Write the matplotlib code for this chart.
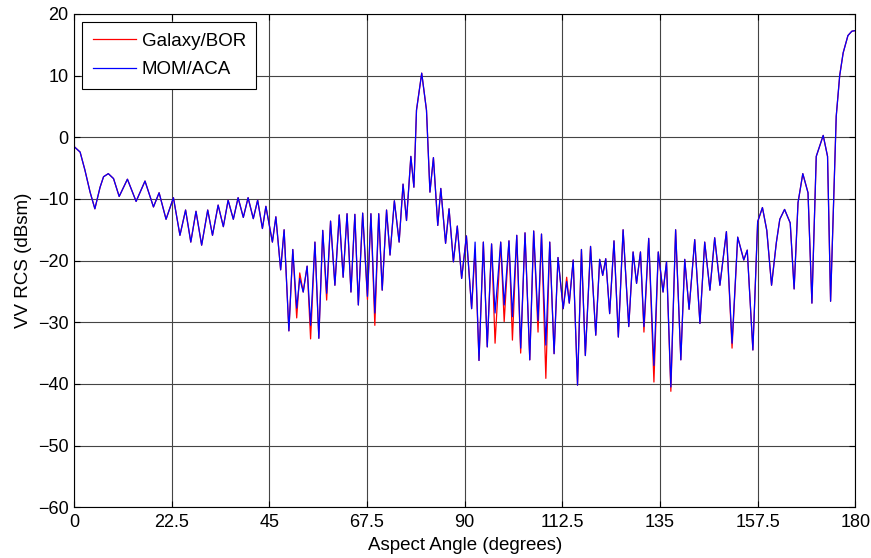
import matplotlib
matplotlib.use("Agg")
import matplotlib.pyplot as plt

# aspect angle (deg) and MOM/ACA VV RCS (dBsm)
angle = [0.0, 1.4, 2.5, 3.7, 4.8, 6.0, 6.8, 7.9, 9.1, 10.4, 12.3, 14.3, 16.35, 18.3, 19.6,
         21.2, 22.9, 24.4, 25.7, 26.9, 28.1, 29.4, 30.8, 31.9, 33.2, 34.4, 35.5, 36.7, 37.8,
         39.0, 40.1, 41.3, 42.3, 43.4, 44.2, 45.7, 46.5, 47.6, 48.4, 49.5, 50.4, 51.3, 52.0,
         52.8, 53.7, 54.5, 55.5, 56.4, 57.3, 58.2, 59.1, 60.1, 61.1, 62.0, 62.9, 63.8, 64.7,
         65.5, 66.5, 67.6, 68.4, 69.3, 70.2, 71.0, 72.0, 72.8, 73.8, 74.9, 75.8, 76.6, 77.6,
         78.3, 78.9, 80.1, 81.2, 82.0, 82.8, 83.8, 84.5, 85.6, 86.4, 87.4, 88.3, 89.3, 90.4,
         91.6, 92.4, 93.3, 94.3, 95.2, 96.2, 97.0, 98.3, 99.1, 100.2, 101.0, 102.0, 102.9,
         103.9, 105.0, 105.9, 106.9, 107.7, 108.7, 109.6, 110.6, 111.5, 112.7, 113.5, 114.1,
         115.0, 116.0, 116.9, 117.8, 119.0, 120.2, 121.1, 121.8, 122.5, 123.4, 124.4, 125.4,
         126.5, 127.8, 128.8, 129.6, 130.5, 131.3, 132.4, 133.6, 134.6, 135.7, 136.5, 137.5,
         138.6, 139.8, 140.7, 141.7, 143.0, 144.2, 145.3, 146.5, 147.6, 148.8, 150.3, 151.6,
         152.9, 154.3, 155.1, 156.4, 157.5, 158.6, 159.6, 160.7, 161.8, 162.6, 163.7, 165.0,
         165.9, 166.8, 167.9, 169.1, 170.0, 171.0, 172.6, 173.6, 174.3, 175.6, 176.4, 177.2,
         178.3, 179.2, 180.0]
mom_aca = [-1.5, -2.4, -5.3, -8.9, -11.6, -8.1, -6.4, -5.9, -6.7, -9.6, -6.8, -10.4, -7.1, -11.3, -9.0,
           -13.3, -9.8, -15.9, -11.8, -17.0, -12.0, -17.5, -11.8, -15.9, -11.0, -14.5, -10.2, -13.3, -9.8,
           -13.0, -9.8, -13.2, -10.2, -14.8, -11.2, -17.0, -12.9, -21.5, -15.0, -31.4, -18.2, -27.7, -22.9,
           -25.1, -20.9, -30.5, -17.0, -32.6, -15.1, -25.3, -13.6, -24.0, -12.6, -22.7, -12.4, -25.1, -12.5,
           -27.2, -12.3, -25.8, -12.4, -28.5, -12.4, -24.8, -11.8, -19.1, -10.3, -17.0, -7.6, -13.5, -3.1,
           -8.1, 4.4, 10.4, 4.4, -8.9, -3.3, -14.3, -8.3, -17.2, -11.6, -20.2, -14.4, -22.9, -16.0,
           -27.8, -17.0, -36.2, -17.0, -34.0, -17.3, -28.5, -17.0, -27.2, -16.8, -29.1, -15.9, -34.2,
           -15.5, -36.1, -15.2, -29.7, -15.7, -33.7, -17.0, -35.1, -19.5, -27.8, -23.4, -26.9,
           -19.9, -40.2, -18.2, -35.4, -17.7, -32.1, -19.8, -22.4, -19.7, -28.6, -16.8, -32.4,
           -15.0, -30.7, -18.6, -23.7, -18.6, -30.7, -16.4, -37.0, -18.6, -25.1, -20.2, -40.5,
           -15.0, -36.1, -19.8, -27.9, -16.6, -30.2, -17.0, -24.8, -16.3, -24.0, -15.3, -33.4,
           -16.2, -19.9, -18.3, -34.5, -13.7, -11.4, -15.1, -24.0, -17.1, -13.3, -11.7, -13.9,
           -24.6, -10.6, -5.9, -9.0, -26.9, -3.1, 0.3, -3.1, -26.6, 3.4, 10.0, 13.7,
           16.5, 17.2, 17.3]

# Galaxy/BOR follows MOM/ACA except at these angles
galaxy_diff = {51.3: -29.3, 52.0: -22.0, 54.5: -32.7, 58.2: -26.4, 67.6: -26.3, 69.3: -30.5,
               92.4: -18.3, 97.0: -33.4, 99.1: -29.9, 101.0: -32.9, 102.9: -35.0, 106.9: -31.6,
               108.7: -39.1, 113.5: -22.7, 131.3: -31.6, 133.6: -39.7, 137.5: -41.2, 151.6: -34.2}
galaxy_bor = [galaxy_diff.get(a, v) for a, v in zip(angle, mom_aca)]

xticks = [0, 22.5, 45, 67.5, 90, 112.5, 135, 157.5, 180]
xtick_labels = ["0", "22.5", "45", "67.5", "90", "112.5", "135", "157.5", "180"]

plt.rcParams["font.family"] = ["Liberation Sans", "DejaVu Sans"]

fig = plt.figure(figsize=(8.71, 5.58), dpi=100)
ax = fig.add_axes([0.085, 0.091, 0.897, 0.884])

ax.plot(angle, galaxy_bor, color="red", lw=0.9, label="Galaxy/BOR")
ax.plot(angle, mom_aca, color="blue", lw=0.9, label="MOM/ACA")

ax.set_xlim(0, 180)
ax.set_ylim(-60, 20)
ax.set_xticks(xticks)
ax.set_xticklabels(xtick_labels)
ax.set_yticks(range(-60, 21, 10))
ax.tick_params(direction="in", top=True, right=True, labelsize=13, length=4, pad=4)
ax.tick_params(axis="x", pad=5)
ax.grid(True, color="#444444", lw=0.8)
ax.set_axisbelow(True)
for s in ax.spines.values():
    s.set_color("black"); s.set_linewidth(0.8)

ax.set_xlabel("Aspect Angle (degrees)", fontsize=13.5, labelpad=4)
ax.set_ylabel("VV RCS (dBsm)", fontsize=13.5, labelpad=4)

leg = ax.legend(loc="upper left", fontsize=13.5, fancybox=False, framealpha=1,
                edgecolor="black", borderaxespad=0.45, handlelength=2.3,
                handletextpad=0.3, borderpad=0.55, labelspacing=0.6)
leg.get_frame().set_linewidth(0.8)

fig.savefig("out.png", dpi=100)
